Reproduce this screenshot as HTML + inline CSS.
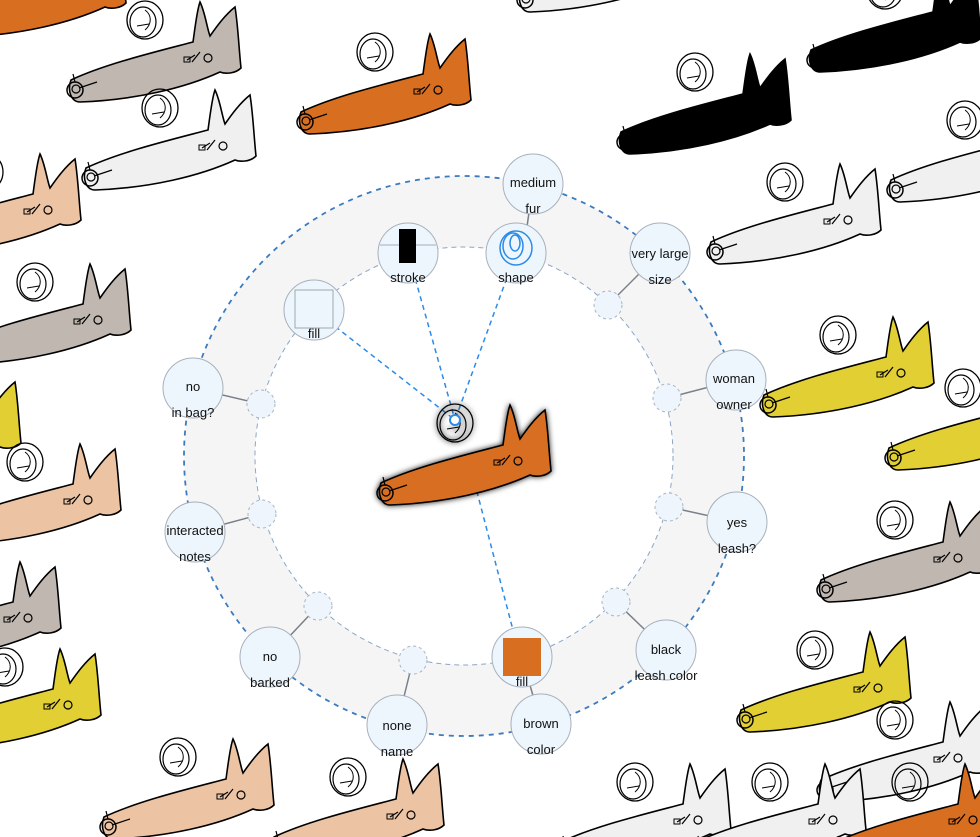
<!DOCTYPE html>
<html><head><meta charset="utf-8"><style>
html,body{margin:0;padding:0;background:#fff;width:980px;height:837px;overflow:hidden}
svg{display:block}
text{font-family:"Liberation Sans","DejaVu Sans",sans-serif;font-size:13px;fill:#111;text-anchor:middle}
</style></head><body>
<svg width="980" height="837" viewBox="0 0 980 837" xmlns="http://www.w3.org/2000/svg">
<defs>
<symbol id="dog" viewBox="0 0 180 105" width="180" height="105" overflow="visible">
<path d="M6,80 C40,64 90,52 128,42 C130,28 132,10 135,2 C140,12 142,28 145,36 C152,26 160,15 170,7 C173,25 174,50 176,68 C170,74 160,74 155,72 C120,88 70,100 15,102 C6,102 2,90 6,80 Z" stroke="#000" stroke-width="1.6"/>
<circle cx="10" cy="90" r="8" fill="none" stroke="#000" stroke-width="1.5"/>
<circle cx="11" cy="89" r="4" fill="none" stroke="#000" stroke-width="1.2"/>
<path d="M14,88 L32,82 M10,82 L8,74" stroke="#000" fill="none" stroke-width="1.2"/>
<path d="M122,60 L130,55 M127,62 L135,52" stroke="#000" fill="none" stroke-width="1.2"/>
<circle cx="143" cy="58" r="4" fill="none" stroke="#000" stroke-width="1.2"/>
<rect x="119" y="57" width="6" height="5" fill="none" stroke="#000" stroke-width="1"/>
<ellipse cx="80" cy="20" rx="18" ry="19" fill="none" stroke="#000" stroke-width="1.3"/>
<ellipse cx="78" cy="22" rx="13" ry="15" fill="none" stroke="#000" stroke-width="1.2"/>
<path d="M72,26 L84,24 M80,10 C87,15 87,24 80,30" fill="none" stroke="#000" stroke-width="1"/>
</symbol>
<filter id="glow" x="-20%" y="-30%" width="140%" height="160%"><feDropShadow dx="0" dy="0" stdDeviation="3" flood-color="#000" flood-opacity="0.9"/></filter>
</defs>

<g>
<use href="#dog" x="-50" y="-65" fill="#d86e20"/>
<use href="#dog" x="65" y="0" fill="#c0b7b1"/>
<use href="#dog" x="295" y="32" fill="#d86e20"/>
<use href="#dog" x="80" y="88" fill="#f0f0f0"/>
<use href="#dog" x="-95" y="152" fill="#ecc4a4"/>
<use href="#dog" x="-45" y="262" fill="#c0b7b1"/>
<use href="#dog" x="-155" y="375" fill="#e2cf33"/>
<use href="#dog" x="-55" y="442" fill="#ecc4a4"/>
<use href="#dog" x="-115" y="560" fill="#c0b7b1"/>
<use href="#dog" x="-75" y="647" fill="#e2cf33"/>
<use href="#dog" x="98" y="737" fill="#ecc4a4"/>
<use href="#dog" x="268" y="757" fill="#ecc4a4"/>
<use href="#dog" x="515" y="-90" fill="#f0f0f0"/>
<use href="#dog" x="615" y="52" fill="#000"/>
<use href="#dog" x="805" y="-30" fill="#000"/>
<use href="#dog" x="705" y="162" fill="#f0f0f0"/>
<use href="#dog" x="885" y="100" fill="#f0f0f0"/>
<use href="#dog" x="758" y="315" fill="#e2cf33"/>
<use href="#dog" x="883" y="368" fill="#e2cf33"/>
<use href="#dog" x="815" y="500" fill="#c0b7b1"/>
<use href="#dog" x="735" y="630" fill="#e2cf33"/>
<use href="#dog" x="815" y="700" fill="#f0f0f0"/>
<use href="#dog" x="555" y="762" fill="#f0f0f0"/>
<use href="#dog" x="690" y="762" fill="#f0f0f0"/>
<use href="#dog" x="830" y="762" fill="#d86e20"/>
</g>

<path d="M464,176 a280,280 0 1,0 0.1,0 Z M464,247 a209,209 0 1,1 -0.1,0 Z" fill="#f4f4f4" fill-rule="evenodd" opacity="0.95"/>
<circle cx="464" cy="456" r="280" fill="none" stroke="#3a7bbf" stroke-width="1.8" stroke-dasharray="5,5"/>
<circle cx="464" cy="456" r="209" fill="none" stroke="#8aa6c8" stroke-width="1" stroke-dasharray="5,4"/>

<g stroke="#7a8088" stroke-width="1.5">
<line x1="533" y1="184" x2="524" y2="248"/>
<line x1="660" y1="253" x2="608" y2="305"/>
<line x1="736" y1="380" x2="667" y2="398"/>
<line x1="737" y1="522" x2="669" y2="507"/>
<line x1="666" y1="650" x2="616" y2="602"/>
<line x1="541" y1="724" x2="522" y2="657"/>
<line x1="397" y1="725" x2="413" y2="660"/>
<line x1="270" y1="657" x2="318" y2="606"/>
<line x1="195" y1="532" x2="262" y2="514"/>
<line x1="193" y1="388" x2="261" y2="404"/>
</g>
<g stroke="#2b8be8" stroke-width="1.5" stroke-dasharray="5,4" fill="none">
<line x1="408" y1="253" x2="455" y2="420"/>
<line x1="516" y1="253" x2="455" y2="420"/>
<line x1="314" y1="310" x2="455" y2="420"/>
<line x1="470" y1="465" x2="520" y2="657"/>
</g>

<g fill="#eef5fc" stroke="#a8b4c4" stroke-width="1" stroke-dasharray="3,3">
<circle cx="608" cy="305" r="14"/><circle cx="667" cy="398" r="14"/>
<circle cx="669" cy="507" r="14"/><circle cx="616" cy="602" r="14"/>
<circle cx="413" cy="660" r="14"/><circle cx="318" cy="606" r="14"/>
<circle cx="262" cy="514" r="14"/><circle cx="261" cy="404" r="14"/>
</g>

<g filter="url(#glow)"><use href="#dog" x="375" y="403" fill="#d86e20"/></g>
<circle cx="455" cy="420" r="5" fill="#fff" stroke="#2b8be8" stroke-width="2"/>

<g fill="#eef6fd" stroke="#a8b0bc" stroke-width="1">
<circle cx="533" cy="184" r="30"/><circle cx="660" cy="253" r="30"/>
<circle cx="736" cy="380" r="30"/><circle cx="737" cy="522" r="30"/>
<circle cx="666" cy="650" r="30"/><circle cx="541" cy="724" r="30"/>
<circle cx="397" cy="725" r="30"/><circle cx="270" cy="657" r="30"/>
<circle cx="195" cy="532" r="30"/><circle cx="193" cy="388" r="30"/>
<circle cx="408" cy="253" r="30"/><circle cx="516" cy="253" r="30"/>
<circle cx="314" cy="310" r="30"/><circle cx="522" cy="657" r="30"/>
</g>
<line x1="380" y1="245" x2="436" y2="245" stroke="#aab" stroke-width="1"/>
<rect x="399" y="229" width="17" height="34" fill="#000"/>
<g fill="none" stroke="#2b8be8" stroke-width="1.5">
<ellipse cx="516" cy="248" rx="16" ry="17"/><ellipse cx="513" cy="246" rx="10" ry="13"/><ellipse cx="515" cy="243" rx="5" ry="8"/>
</g>
<rect x="295" y="290" width="38" height="38" fill="#eef6fd" stroke="#9aa" stroke-width="1"/>
<rect x="503" y="638" width="38" height="38" fill="#d86e20"/>

<text x="533" y="187">medium</text><text x="533" y="213">fur</text>
<text x="660" y="258">very large</text><text x="660" y="284">size</text>
<text x="734" y="383">woman</text><text x="734" y="409">owner</text>
<text x="737" y="527">yes</text><text x="737" y="553">leash?</text>
<text x="666" y="654">black</text><text x="666" y="680">leash color</text>
<text x="541" y="728">brown</text><text x="541" y="754">color</text>
<text x="397" y="730">none</text><text x="397" y="756">name</text>
<text x="270" y="661">no</text><text x="270" y="687">barked</text>
<text x="195" y="535">interacted</text><text x="195" y="561">notes</text>
<text x="193" y="391">no</text><text x="193" y="417">in bag?</text>
<text x="408" y="282">stroke</text>
<text x="516" y="282">shape</text>
<text x="314" y="338">fill</text>
<text x="522" y="686">fill</text>
</svg>
</body></html>
